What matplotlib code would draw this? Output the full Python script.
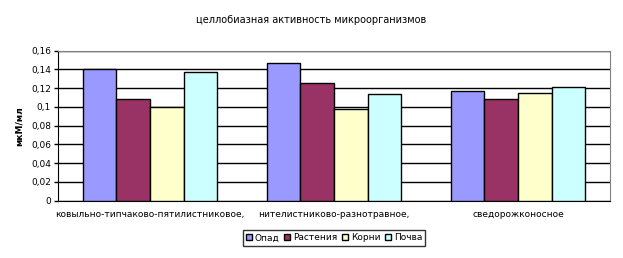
import numpy as np
import matplotlib
matplotlib.use('Agg')
import matplotlib.pyplot as plt

categories = ['ковыльно-типчаково-пятилистниковое,', 'нителистниково-разнотравное,', 'сведорожконосное']
series = ['Опад', 'Растения', 'Корни', 'Почва']
opad = [0.140, 0.1465, 0.1167]
rastenia = [0.108, 0.126, 0.108]
korni = [0.100, 0.098, 0.1146]
pochva = [0.137, 0.1135, 0.121]
colors = ['#9999FF', '#993366', '#FFFFCC', '#CCFFFF']

plt.rcParams['font.family'] = ['DejaVu Sans']
fig = plt.figure(figsize=(6.23, 2.58), dpi=100)
ax = fig.add_axes([0.0931, 0.222, 0.886, 0.5815])

x = np.arange(len(categories))
w = 0.183
vals = [opad, rastenia, korni, pochva]
for i in range(4):
    ax.bar(x + (i - 1.5) * w, vals[i], w, color=colors[i], edgecolor='black',
           linewidth=1, label=series[i], zorder=3)

ax.set_xlim(-0.5, 2.5)
ax.set_ylim(0, 0.16)
yt = np.arange(0, 0.161, 0.02)
ax.set_yticks(yt)
ax.set_yticklabels(['0', '0,02', '0,04', '0,06', '0,08', '0,1', '0,12', '0,14', '0,16'], fontsize=6.5)
ax.set_xticks(x)
ax.set_xticklabels(categories, fontsize=6.5)
ax.tick_params(axis='x', length=0, pad=7)
ax.tick_params(axis='y', length=3, width=1, pad=2)
ax.yaxis.grid(True, color='black', linewidth=1, zorder=0)
ax.set_axisbelow(True)
for s in ['top', 'right']:
    ax.spines[s].set_color('#808080')
ax.spines['left'].set_color('black')
ax.spines['bottom'].set_color('black')
ax.set_ylabel('мкМ/мл', fontsize=6.5, labelpad=5, fontweight='bold')

fig.text(0.5, 0.922, 'целлобиазная активность микроорганизмов', ha='center', va='center', fontsize=7)

leg = fig.legend(loc='center', bbox_to_anchor=(0.536, 0.078), ncol=4, fontsize=6.5,
                 frameon=True, fancybox=False, edgecolor='black', handlelength=0.7,
                 handleheight=0.7, handletextpad=0.3, columnspacing=0.5, borderpad=0.35,
                 borderaxespad=0)
leg.get_frame().set_linewidth(1)

plt.savefig('out.png', dpi=100)
